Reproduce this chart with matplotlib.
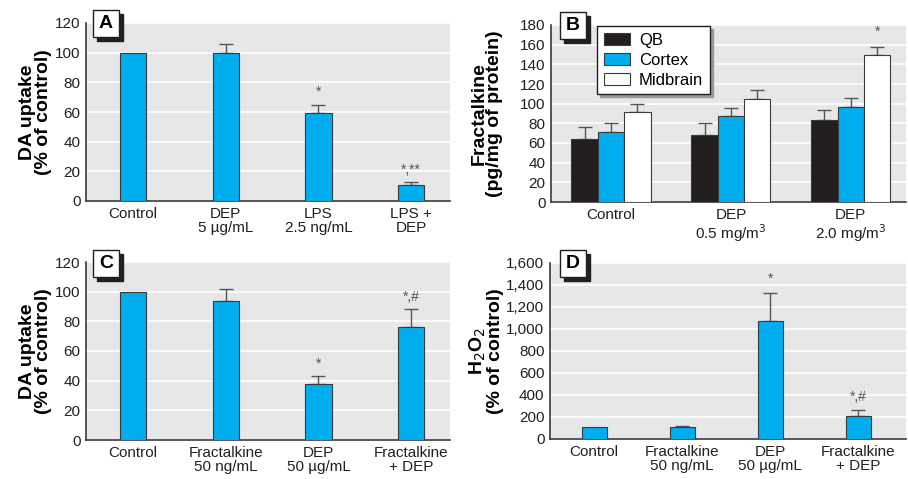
import numpy as np
import matplotlib.pyplot as plt
from matplotlib.patches import Rectangle, Patch

plt.rcParams['font.family'] = ['Liberation Sans', 'DejaVu Sans']

# panel A: DA uptake
a_labels = ['Control', 'DEP\n5 µg/mL', 'LPS\n2.5 ng/mL', 'LPS +\nDEP']
a_values = [100, 100, 59, 11]
a_errors = [0, 6, 6, 1.5]
a_marks = ['', '', '*', '*,**']

# panel B: fractalkine by region
b_labels = ['Control', 'DEP\n0.5 mg/m$^3$', 'DEP\n2.0 mg/m$^3$']
b_series = ['QB', 'Cortex', 'Midbrain']
b_qb = [64, 68, 83]
b_qb_err = [12, 12, 11]
b_cortex = [71, 87, 97]
b_cortex_err = [9, 9, 9]
b_midbrain = [92, 105, 150]
b_midbrain_err = [8, 9, 8]
b_marks = ['', '', '*']

# panel C: DA uptake with fractalkine
c_labels = ['Control', 'Fractalkine\n50 ng/mL', 'DEP\n50 µg/mL', 'Fractalkine\n+ DEP']
c_values = [100, 94, 38, 76]
c_errors = [0, 8, 5, 12]
c_marks = ['', '', '*', '*,#']

# panel D: H2O2
d_labels = ['Control', 'Fractalkine\n50 ng/mL', 'DEP\n50 µg/mL', 'Fractalkine\n+ DEP']
d_values = [110, 110, 1075, 205]
d_errors = [0, 10, 255, 55]
d_marks = ['', '', '*', '*,#']

BLUE = '#00aeef'
BLACK = '#231f20'
BG = '#e6e7e8'
W, H = 908, 479

fig = plt.figure(figsize=(9.08, 4.79), dpi=100)


def make_ax(left, top, right, bottom):
    ax = fig.add_axes([left / W, 1 - bottom / H, (right - left) / W, (bottom - top) / H])
    ax.set_facecolor(BG)
    ax.yaxis.grid(True, color='white', lw=1.2)
    ax.set_axisbelow(True)
    for s in ['top', 'right']:
        ax.spines[s].set_visible(False)
    for s in ['left', 'bottom']:
        ax.spines[s].set_color('#3a3a3a')
        ax.spines[s].set_linewidth(1.2)
    ax.tick_params(length=0, labelsize=11, colors='#231f20', pad=4)
    return ax


def panel_tag(letter, x0, y0):
    # white box with dark drop shadow
    fig.patches.append(Rectangle(((x0 + 4) / W, 1 - (y0 + 31) / H), 26 / W, 27 / H,
                                 transform=fig.transFigure, color=BLACK, zorder=5))
    fig.patches.append(Rectangle((x0 / W, 1 - (y0 + 27) / H), 26 / W, 27 / H,
                                 transform=fig.transFigure, facecolor='white',
                                 edgecolor=BLACK, lw=1, zorder=6))
    fig.text((x0 + 13) / W, 1 - (y0 + 14) / H, letter, ha='center', va='center',
             fontsize=14, fontweight='bold', zorder=7)


def err_caps(ax, x, values, errors):
    x = np.asarray(x)
    e = np.asarray(errors, dtype=float)
    keep = e > 0
    ax.errorbar(x[keep], np.asarray(values)[keep], yerr=[np.zeros(keep.sum()), e[keep]],
                fmt='none', ecolor='#555555', elinewidth=1, capsize=5, capthick=1, zorder=2)


def simple_bars(ax, labels, values, errors, marks, ymax, step, xr, mark_gap):
    x = np.arange(len(values))
    ax.bar(x, values, width=0.285, color=BLUE, edgecolor='#3a3a3a', lw=0.8, zorder=3)
    err_caps(ax, x, values, errors)
    for xi, v, e, m in zip(x, values, errors, marks):
        if m:
            ax.text(xi, v + e + mark_gap, m, ha='center', va='bottom', fontsize=10, color='#555555')
    ax.set_xticks(x)
    ax.set_xticklabels(labels, linespacing=1.05)
    ax.set_xlim(*xr)
    ax.set_ylim(0, ymax)
    ax.set_yticks(np.arange(0, ymax + 1, step))


ylab_kw = dict(fontsize=14, fontweight='bold', linespacing=0.92)

# A
axA = make_ax(86, 23, 450, 201)
simple_bars(axA, a_labels, a_values, a_errors, a_marks, 120, 20, (-0.51, 3.42), 4)
axA.set_ylabel('DA uptake\n(% of control)', labelpad=2, **ylab_kw)
panel_tag('A', 93, 10)

# B
axB = make_ax(551, 25, 906, 202)
xb = np.arange(len(b_labels))
w = 0.22
colors = [BLACK, BLUE, 'white']
for off, vals, errs, col in [(-w, b_qb, b_qb_err, BLACK), (0, b_cortex, b_cortex_err, BLUE),
                             (w, b_midbrain, b_midbrain_err, 'white')]:
    axB.bar(xb + off, vals, width=w, color=col, edgecolor='#3a3a3a', lw=0.8, zorder=3)
    err_caps(axB, xb + off, vals, errs)
for xi, v, e, m in zip(xb + w, b_midbrain, b_midbrain_err, b_marks):
    if m:
        axB.text(xi, v + e + 8, m, ha='center', va='bottom', fontsize=10, color='#555555')
axB.set_xticks(xb)
axB.set_xticklabels(b_labels, linespacing=1.05)
axB.set_xlim(-0.5, 2.46)
axB.set_ylim(0, 180)
axB.set_yticks(np.arange(0, 181, 20))
axB.set_ylabel('Fractalkine\n(pg/mg of protein)', labelpad=12, **ylab_kw)
handles = [Patch(facecolor=c, edgecolor='#3a3a3a', lw=0.8) for c in colors]
leg = axB.legend(handles, b_series, loc='upper left', bbox_to_anchor=(0.13, 0.995), fontsize=12,
                 frameon=True, fancybox=False, shadow={'color': '#999999', 'alpha': 1},
                 handlelength=1.6, handleheight=0.72, borderpad=0.4, labelspacing=0.3,
                 handletextpad=0.5, borderaxespad=0)
leg.get_frame().set_edgecolor(BLACK)
leg.get_frame().set_linewidth(1)
panel_tag('B', 560, 12)

# C
axC = make_ax(86, 262, 450, 440)
simple_bars(axC, c_labels, c_values, c_errors, c_marks, 120, 20, (-0.51, 3.42), 4)
axC.set_ylabel('DA uptake\n(% of control)', labelpad=2, **ylab_kw)
panel_tag('C', 93, 250)

# D
axD = make_ax(550, 263, 906, 439)
simple_bars(axD, d_labels, d_values, d_errors, d_marks, 1600, 200, (-0.5, 3.54), 60)
axD.set_yticklabels([f'{v:,}' for v in range(0, 1601, 200)])
axD.set_ylabel('H$_2$O$_2$\n(% of control)', labelpad=2, **ylab_kw)
panel_tag('D', 560, 250)

fig.savefig('out.png', dpi=100)
